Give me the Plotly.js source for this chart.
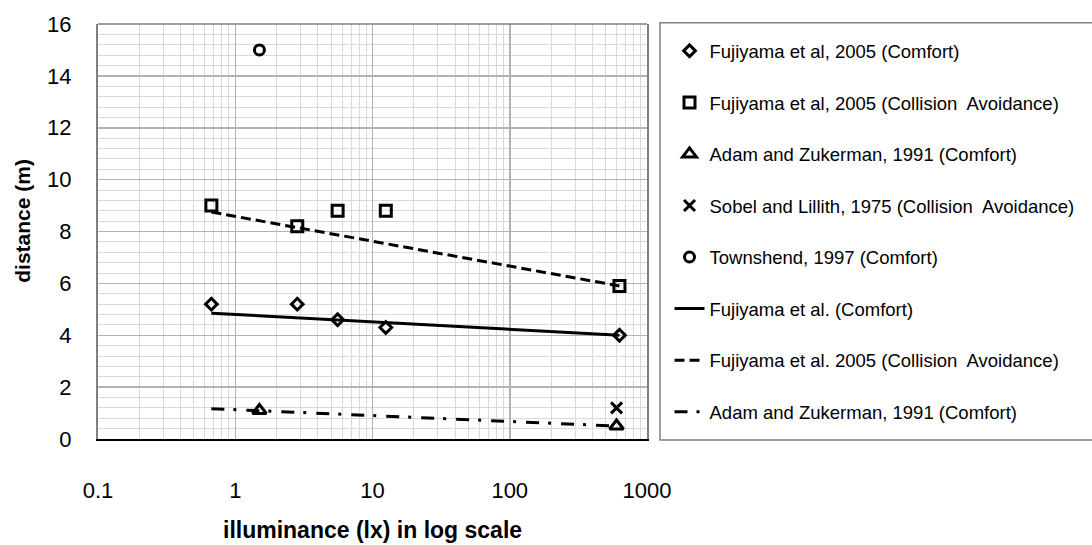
<!DOCTYPE html>
<html>
<head>
<meta charset="utf-8">
<script src="https://cdn.plot.ly/plotly-3.0.1.min.js"></script>
<style>
  html, body { margin: 0; padding: 0; background: #fff; }
  #chart { width: 1092px; height: 545px; }
</style>
</head>
<body>
<div id="chart"></div>
<script>
// Measured points: illuminance (lx) vs. interpersonal distance (m)
const fujComfortX = [0.67, 2.83, 5.57, 12.5, 630];
const fujComfortY = [5.2, 5.2, 4.6, 4.3, 4.0];

const fujCollisionX = [0.67, 2.83, 5.57, 12.5, 630];
const fujCollisionY = [9.0, 8.2, 8.8, 8.8, 5.9];

const adamX = [1.5, 600];
const adamY = [1.1, 0.5];

const sobelX = [600];
const sobelY = [1.2];

const townshendX = [1.5];
const townshendY = [15];

// Logarithmic trend lines (straight on a log axis, so two ends are enough)
const comfortTrendX = [0.67, 630];
const comfortTrendY = [4.85, 4.0];

const collisionTrendX = [0.67, 630];
const collisionTrendY = [8.75, 5.9];

const adamTrendX = [0.67, 600];
const adamTrendY = [1.17, 0.5];

// Axis ticks
const xTickVals = [0.1, 1, 10, 100, 1000];
const xTickText = ['0.1', '1', '10', '100', '1000'];
const yTickVals = [0, 2, 4, 6, 8, 10, 12, 14, 16];

const FONT = 'Liberation Sans, Arial, sans-serif';
const INK = '#000000';

function markerTrace(name, x, y, symbol, size, group) {
  return {
    type: 'scatter', mode: 'markers', name: name, x: x, y: y,
    legendgroup: group,
    marker: { symbol: symbol, size: size, color: INK,
              line: { color: INK, width: 3 } },
    hoverinfo: 'x+y'
  };
}

function lineTrace(name, x, y, dash, group) {
  return {
    type: 'scatter', mode: 'lines', name: name, x: x, y: y,
    legendgroup: group,
    line: { color: INK, width: 3, dash: dash },
    hoverinfo: 'skip'
  };
}

const traces = [
  markerTrace('Fujiyama et al, 2005 (Comfort)', fujComfortX, fujComfortY, 'diamond-open', 9, 'g1'),
  markerTrace('Fujiyama et al, 2005 (Collision  Avoidance)', fujCollisionX, fujCollisionY, 'square-open', 11, 'g2'),
  markerTrace('Adam and Zukerman, 1991 (Comfort)', adamX, adamY, 'triangle-up-open', 12, 'g3'),
  markerTrace('Sobel and Lillith, 1975 (Collision  Avoidance)', sobelX, sobelY, 'x-thin-open', 11, 'g4'),
  markerTrace('Townshend, 1997 (Comfort)', townshendX, townshendY, 'circle-open', 10, 'g5'),
  lineTrace('Fujiyama et al. (Comfort)', comfortTrendX, comfortTrendY, 'solid', 'g6'),
  lineTrace('Fujiyama et al. 2005 (Collision  Avoidance)', collisionTrendX, collisionTrendY, '10px,5px', 'g7'),
  lineTrace('Adam and Zukerman, 1991 (Comfort)', adamTrendX, adamTrendY, '13px,9px,3px,10px', 'g8')
];

const layout = {
  width: 1092, height: 545,
  margin: { l: 98, r: 445, t: 24, b: 106, pad: 0, autoexpand: false },
  paper_bgcolor: '#ffffff', plot_bgcolor: '#ffffff',
  font: { family: FONT, color: INK, size: 18.5 },
  showlegend: true,
  legend: {
    x: 1.041, xanchor: 'left', y: 0.98, yanchor: 'top',
    bgcolor: 'rgba(0,0,0,0)', borderwidth: 0,
    font: { family: FONT, size: 18.5, color: INK },
    traceorder: 'grouped', tracegroupgap: 24.5,
    itemsizing: 'trace'
  },
  xaxis: {
    type: 'log', range: [-1, 3],
    tickvals: xTickVals, ticktext: xTickText,
    ticks: '', ticklabelstandoff: 31,
    tickfont: { family: FONT, size: 22, color: INK },
    showgrid: true, gridcolor: '#b3b3b3', gridwidth: 1.5,
    minor: { dtick: 'D1', showgrid: true, gridcolor: '#d9d9d9', gridwidth: 1, ticks: '' },
    showline: true, linecolor: INK, linewidth: 1.5, mirror: false,
    zeroline: false, fixedrange: true
  },
  yaxis: {
    range: [0, 16], tickvals: yTickVals,
    ticks: '', ticklabelstandoff: 20,
    tickfont: { family: FONT, size: 22, color: INK },
    showgrid: true, gridcolor: '#b3b3b3', gridwidth: 1.5,
    minor: { dtick: 0.4, showgrid: true, gridcolor: '#d9d9d9', gridwidth: 1, ticks: '' },
    showline: true, linecolor: '#808080', linewidth: 2, mirror: true,
    zeroline: false, fixedrange: true
  },
  shapes: [
    // top edge of the plot frame
    { type: 'line', xref: 'paper', yref: 'paper', x0: 0, x1: 1, y0: 1, y1: 1,
      line: { color: '#808080', width: 1.5 } },
    // legend frame
    { type: 'rect', xref: 'paper', yref: 'paper',
      x0: 1.0237, x1: 1.82, y0: -0.0024, y1: 1.0031,
      line: { color: '#808080', width: 1.5 }, fillcolor: 'rgba(0,0,0,0)' }
  ],
  annotations: [
    { text: '<b>illuminance (lx) in log scale</b>', xref: 'paper', yref: 'paper',
      x: 0.5, y: -0.219, xanchor: 'center', yanchor: 'middle', showarrow: false,
      font: { family: FONT, size: 23, color: INK } },
    { text: '<b>distance (m)</b>', xref: 'paper', yref: 'paper',
      x: -0.1366, y: 0.526, xanchor: 'center', yanchor: 'middle', showarrow: false,
      textangle: -90, font: { family: FONT, size: 21, color: INK } }
  ]
};

Plotly.newPlot('chart', traces, layout, { displayModeBar: false, staticPlot: true });
</script>
</body>
</html>
